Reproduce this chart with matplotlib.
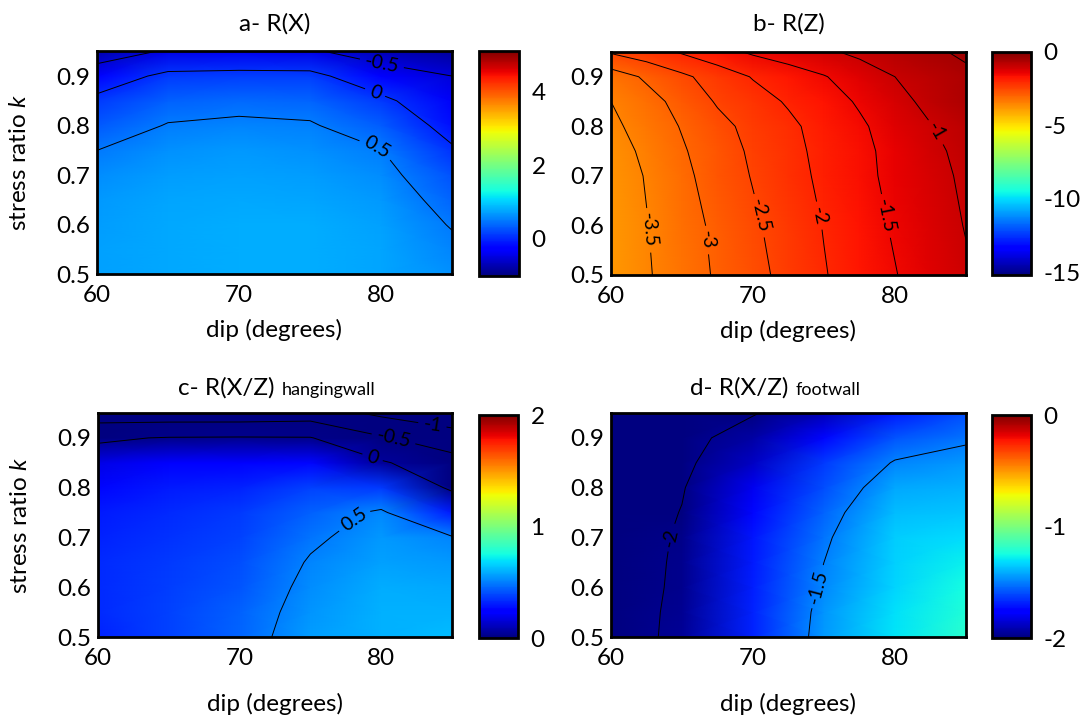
import numpy as np
import matplotlib.pyplot as plt

plt.rcParams["font.family"] = ["Lato", "DejaVu Sans"]
plt.rcParams["mathtext.fontset"] = "custom"
plt.rcParams["mathtext.rm"] = "Lato"
plt.rcParams["mathtext.it"] = "Lato:italic"
plt.rcParams["axes.unicode_minus"] = False
plt.rcParams["contour.negative_linestyle"] = "solid"

# grid for panels a, c, d
DIP = [60, 65, 70, 75, 80, 85]
K = [0.50, 0.55, 0.60, 0.65, 0.70, 0.75, 0.80, 0.85, 0.90, 0.95]

# finer dip grid for panel b
DIP_B = [60, 62.5, 65, 67.5, 70, 72.5, 75, 77.5, 80, 82.5, 85]
K_B = [0.50, 0.60, 0.70, 0.75, 0.80, 0.85, 0.90, 0.95]

# a- R(X), rows = k, cols = dip
RX = [
    [0.72, 0.78, 0.80, 0.80, 0.76, 0.64],
    [0.72, 0.78, 0.80, 0.80, 0.75, 0.57],
    [0.71, 0.77, 0.79, 0.79, 0.72, 0.48],
    [0.68, 0.75, 0.77, 0.76, 0.68, 0.38],
    [0.62, 0.71, 0.73, 0.71, 0.61, 0.24],
    [0.50, 0.64, 0.67, 0.64, 0.51, 0.05],
    [0.30, 0.52, 0.56, 0.53, 0.32, -0.15],
    [0.10, 0.35, 0.40, 0.38, 0.10, -0.35],
    [-0.25, 0.10, 0.12, 0.12, -0.30, -0.50],
    [-0.75, -0.45, -0.40, -0.45, -0.70, -0.85],
]

# b- R(Z)
RZ = [
    [-3.85, -3.55, -3.25, -2.94, -2.65, -2.35, -2.03, -1.77, -1.52, -1.27, -1.05],
    [-3.82, -3.52, -3.20, -2.90, -2.58, -2.27, -1.98, -1.70, -1.45, -1.20, -0.98],
    [-3.78, -3.47, -3.12, -2.78, -2.47, -2.18, -1.90, -1.63, -1.38, -1.15, -0.92],
    [-3.72, -3.40, -3.05, -2.74, -2.42, -2.14, -1.87, -1.61, -1.37, -1.10, -0.88],
    [-3.62, -3.28, -2.97, -2.65, -2.35, -2.10, -1.82, -1.57, -1.30, -1.02, -0.80],
    [-3.50, -3.17, -2.85, -2.45, -2.20, -1.95, -1.70, -1.45, -1.15, -0.88, -0.65],
    [-3.25, -2.93, -2.60, -2.28, -1.97, -1.75, -1.53, -1.25, -1.00, -0.80, -0.60],
    [-2.45, -2.22, -1.95, -1.68, -1.43, -1.25, -1.08, -0.90, -0.75, -0.58, -0.42],
]

# c- R(X/Z) hangingwall
RXZ_HW = [
    [0.32, 0.38, 0.45, 0.56, 0.60, 0.62],
    [0.33, 0.38, 0.44, 0.545, 0.60, 0.60],
    [0.33, 0.37, 0.42, 0.53, 0.59, 0.58],
    [0.33, 0.36, 0.40, 0.51, 0.57, 0.55],
    [0.32, 0.35, 0.38, 0.48, 0.55, 0.51],
    [0.30, 0.33, 0.36, 0.44, 0.52, 0.30],
    [0.26, 0.30, 0.32, 0.38, 0.36, -0.05],
    [0.18, 0.22, 0.24, 0.26, 0.05, -0.30],
    [-0.05, 0.02, 0.03, 0.02, -0.45, -0.80],
    [-0.80, -0.80, -0.80, -0.75, -1.10, -1.30],
]

# d- R(X/Z) footwall
RXZ_FW = [
    [-2.08, -1.96, -1.68, -1.45, -1.30, -1.20],
    [-2.08, -1.965, -1.68, -1.46, -1.31, -1.22],
    [-2.09, -1.97, -1.69, -1.48, -1.33, -1.25],
    [-2.09, -1.975, -1.70, -1.50, -1.34, -1.28],
    [-2.10, -1.98, -1.71, -1.52, -1.35, -1.32],
    [-2.10, -1.995, -1.74, -1.55, -1.38, -1.36],
    [-2.12, -2.01, -1.80, -1.60, -1.42, -1.40],
    [-2.14, -2.03, -1.88, -1.64, -1.49, -1.45],
    [-2.16, -2.05, -1.93, -1.74, -1.58, -1.52],
    [-2.20, -2.08, -2.01, -1.90, -1.70, -1.60],
]

FS = 17.5


def fmt_level(v):
    return f"{v:g}"


def draw_panel(fig, rect, cb_rect, dip, k, vals, clim, cticks, levels,
               label_pos, title, subtitle=None, ylabel=True):
    ax = fig.add_axes(rect)
    X, Y = np.meshgrid(dip, k)
    Z = np.array(vals, dtype=float)

    mesh = ax.pcolormesh(X, Y, Z, shading="gouraud", cmap="jet",
                         vmin=clim[0], vmax=clim[1])
    cs = ax.contour(X, Y, Z, levels=levels, colors="k", linewidths=0.7,
                    linestyles="solid")
    ax.clabel(cs, fmt=fmt_level, fontsize=14, inline=True, manual=label_pos)

    ax.set_xlim(60, 85)
    ax.set_ylim(0.5, 0.95)
    ax.set_xticks([60, 70, 80])
    ax.set_yticks([0.5, 0.6, 0.7, 0.8, 0.9])
    ax.tick_params(labelsize=FS, length=0)
    ax.tick_params(axis="x", pad=8)
    ax.tick_params(axis="y", pad=5)
    for sp in ax.spines.values():
        sp.set_linewidth(2)

    ax.set_xlabel("dip (degrees)", fontsize=FS)
    if ylabel:
        ax.set_ylabel("stress ratio $\\it{k}$", fontsize=FS)
        ax.yaxis.set_label_coords(-0.19, 0.5)

    if subtitle is None:
        ax.text(0.5, 1.125, title, transform=ax.transAxes, ha="center",
                va="center", fontsize=FS)
    else:
        # main title and smaller suffix share one baseline
        ax.text(0.50, 1.08, title, transform=ax.transAxes, ha="right",
                va="baseline", fontsize=FS)
        ax.text(0.52, 1.08, subtitle, transform=ax.transAxes, ha="left",
                va="baseline", fontsize=13)

    cax = fig.add_axes(cb_rect)
    cb = fig.colorbar(mesh, cax=cax, ticks=cticks)
    cb.outline.set_linewidth(2)
    cax.tick_params(labelsize=FS, length=0, pad=9)
    return ax


fig = plt.figure(figsize=(10.8, 7.18), dpi=100)

# a- R(X)
ax_a = draw_panel(fig, [0.0898, 0.618, 0.3287, 0.3106], [0.4435, 0.616, 0.037, 0.313],
                  DIP, K, RX, (-1.0, 5.1), [0, 2, 4], [-0.5, 0, 0.5],
                  [(80, 0.915), (79.5, 0.86), (79.5, 0.74)], "a- R(X)")
ax_a.xaxis.set_label_coords(0.5, -0.2)

# b- R(Z)
ax_b = draw_panel(fig, [0.5657, 0.617, 0.3287, 0.3106], [0.9185, 0.617, 0.0361, 0.3106],
                  DIP_B, K_B, RZ, (-15.2, 0), [-15, -10, -5, 0],
                  [-3.5, -3, -2.5, -2, -1.5, -1, -0.5],
                  [(62.6, 0.59), (66.6, 0.57), (70.5, 0.62), (74.7, 0.62),
                   (79.5, 0.62), (83.0, 0.79)], "b- R(Z)", ylabel=False)
ax_b.xaxis.set_label_coords(0.5, -0.2)

# c- R(X/Z) hangingwall
ax_c = draw_panel(fig, [0.0907, 0.1128, 0.3278, 0.312], [0.4435, 0.1114, 0.0361, 0.3106],
                  DIP, K, RXZ_HW, (0, 2), [0, 1, 2], [-1, -0.5, 0, 0.5],
                  [(78.5, 0.72), (79.5, 0.87), (80.8, 0.89), (83.5, 0.905)],
                  "c- R(X/Z)", "hangingwall")
ax_c.xaxis.set_label_coords(0.5, -0.25)

# d- R(X/Z) footwall
ax_d = draw_panel(fig, [0.5657, 0.1128, 0.3287, 0.312], [0.9185, 0.1114, 0.0361, 0.3106],
                  DIP, K, RXZ_FW, (-2, 0), [-2, -1, 0], [-2, -1.5],
                  [(64.2, 0.7), (74.7, 0.6)], "d- R(X/Z)", "footwall", ylabel=False)
ax_d.xaxis.set_label_coords(0.5, -0.25)

fig.savefig("out.png", dpi=100)
